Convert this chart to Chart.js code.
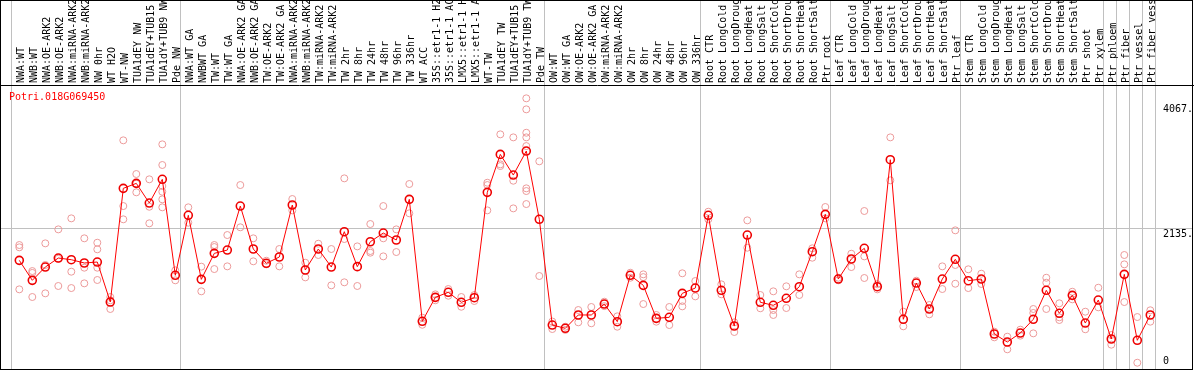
<!DOCTYPE html>
<html>
<head>
<meta charset="utf-8">
<script src="https://cdn.jsdelivr.net/npm/chart.js@4/dist/chart.umd.min.js"></script>
<style>
  html, body { margin: 0; padding: 0; background: #fff; }
  canvas { display: block; }
</style>
</head>
<body>
<canvas id="exprChart" width="1194" height="370"></canvas>
<script>
const geneName = "Potri.018G069450";

const categories = [
  "NWA:WT", "NWB:WT", "NWA:OE-ARK2", "NWB:OE-ARK2", "NWA:miRNA-ARK2", "NWB:miRNA-ARK2",
  "NW 0hr", "WT H2O", "WT-NW", "TUA1dEY NW", "TUA1dEY+TUB15", "TUA1dY+TUB9 NW", "Pde NW",
  "NWA:WT GA", "NWBWT GA", "TW:WT", "TW:WT GA", "NWA:OE-ARK2 GA", "NWB:OE-ARK2 GA",
  "TW:OE-ARK2", "TW:OE-ARK2 GA", "NWA:miRNA-ARK2", "NWB:miRNA-ARK2", "TW:miRNA-ARK2",
  "TW:miRNA-ARK2", "TW 2hr", "TW 8hr", "TW 24hr", "TW 48hr", "TW 96hr", "TW 336hr",
  "WT ACC", "35S::etr1-1 H2", "35S::etr1-1 AC", "LMX5::etr1-1 H", "LMX5::etr1-1 A",
  "WT-TW", "TUA1dEY TW", "TUA1dEY+TUB15", "TUA1dY+TUB9 TW", "Pde TW",
  "OW:WT", "OW:WT GA", "OW:OE-ARK2", "OW:OE-ARK2 GA", "OW:miRNA-ARK2", "OW:miRNA-ARK2",
  "OW 2hr", "OW 8hr", "OW 24hr", "OW 48hr", "OW 96hr", "OW 336hr",
  "Root CTR", "Root LongCold", "Root LongDroug", "Root LongHeat", "Root LongSalt",
  "Root ShortCold", "Root ShortDrou", "Root ShortHeat", "Root ShortSalt", "Ptr root",
  "Leaf CTR", "Leaf LongCold", "Leaf LongDroug", "Leaf LongHeat", "Leaf LongSalt",
  "Leaf ShortCold", "Leaf ShortDrou", "Leaf ShortHeat", "Leaf ShortSalt", "Ptr leaf",
  "Stem CTR", "Stem LongCold", "Stem LongDroug", "Stem LongHeat", "Stem LongSalt",
  "Stem ShortCold", "Stem ShortDrou", "Stem ShortHeat", "Stem ShortSalt", "Ptr shoot",
  "Ptr xylem", "Ptr phloem", "Ptr fiber", "Ptr vessel", "Ptr fiber vess"
];

// number of categories in each block between the grey separators
const groupSizes = [13, 28, 12, 10, 10, 11, 1, 1, 1, 1];

const means = [
  1640, 1330, 1536, 1676, 1650, 1599, 1614, 993, 2758, 2835, 2530, 2898, 1408,
  2339, 1345, 1749, 1800, 2483, 1816, 1594, 1692, 2499, 1490, 1816, 1536, 2085, 1542,
  1929, 2064, 1956, 2587, 694, 1066, 1144, 989, 1060, 2696, 3285, 2964, 3337, 2277,
  636, 585, 792, 792, 962, 688, 1408, 1252, 740, 756, 1128, 1210,
  2339, 1175, 621, 2033, 989, 942, 1051, 1231, 1774, 2354,
  1350, 1661, 1827, 1231, 3202, 725, 1288, 885, 1350, 1656,
  1324, 1350, 497, 372, 512, 725, 1175, 818, 1097, 667, 1024,
  419, 1423, 399, 792
];

const replicates = [
  [1878, 1842, 1190], [1474, 1071, 1445], [1904, 1568, 1128], [2121, 1242, 1665],
  [2292, 1464, 1210], [1982, 1526, 1283], [1914, 1811, 1526, 1335], [1071, 885, 1020],
  [3503, 2483, 2277], [2980, 2696, 2830], [2898, 2472, 2215],
  [3441, 3120, 2794, 2705, 2587, 2463], [1485, 1330],
  [2463, 2224], [1542, 1159], [1878, 1847, 1505], [2033, 1547], [2809, 2153],
  [1982, 1625], [1634, 1578], [1816, 1547], [2592, 2416], [1603, 1376], [1898, 1723],
  [1816, 1252], [2913, 1971, 1299], [1857, 1242], [2204, 1785, 1759], [2483, 1982, 1702],
  [2121, 1769], [2825, 2370], [750, 640], [1020, 1112], [1195, 1091], [1071, 920],
  [1009, 1101], [2845, 2809, 2416], [3596, 3130, 3104], [3549, 2876, 2447],
  [4155, 3984, 3621, 3549, 3414, 2758, 2716, 2514], [3177, 1397],
  [574, 690], [560, 610], [869, 678], [916, 663], [998, 930], [771, 610],
  [1448, 1370], [1423, 1380, 962], [792, 688], [916, 636], [1439, 1009, 926], [1319, 1081],
  [2395, 2277], [1268, 1113], [678, 528], [2261, 1836], [1102, 896], [1159, 869, 792],
  [1237, 900], [1423, 1102], [1827, 1681], [2468, 2292],
  [1330, 1370], [1743, 1536], [2406, 1702, 1366], [1190, 1270], [3549, 2882],
  [843, 616], [1324, 1226], [947, 802], [1547, 1195], [2106, 1568, 1277],
  [1501, 1210], [1433, 1273], [532, 445], [455, 259], [564, 471], [885, 823, 507],
  [1370, 1293, 885], [973, 756, 714], [1153, 1035], [843, 570], [1215, 911],
  [481, 331], [1723, 1578, 993], [760, 51], [865, 688]
];

const yTicks = [0, 2135, 4067];
const yGridValue = 2135;

const FONT = "DejaVu Sans Mono";

// separators sit a bit left of the midpoint between two columns, like the original
const separators = [];
let start = 0;
separators.push(start - 0.615);
groupSizes.forEach((size) => {
  start += size;
  separators.push(start - 0.615);
});

const meanPoints = means.map((v, i) => ({ x: i, y: v }));
const repPoints = [];
replicates.forEach((reps, i) => {
  reps.forEach((v) => repPoints.push({ x: i, y: v }));
});

// chart.js reserves room for rotated edge labels; the original plot runs to the frame
const noPadding = (scale) => {
  scale.paddingLeft = 0;
  scale.paddingRight = 0;
  scale.paddingTop = 0;
  scale.paddingBottom = 0;
};

const decorations = {
  id: "decorations",
  afterDraw(chart) {
    const { ctx, chartArea: area, scales } = chart;
    ctx.save();
    // outer border round labels and plot
    ctx.strokeStyle = "#000";
    ctx.lineWidth = 1;
    ctx.strokeRect(area.left - 0.5, 0.5, area.right - area.left, area.bottom - 1);

    ctx.font = `10px "${FONT}"`;
    ctx.textAlign = "left";
    ctx.fillStyle = "#ff0000";
    ctx.textBaseline = "middle";
    ctx.fillText(geneName, 9, area.top + 12);

    ctx.fillStyle = "#000";
    yTicks.forEach((v) => {
      const py = scales.y.getPixelForValue(v);
      ctx.textBaseline = v === 0 ? "bottom" : "top";
      ctx.fillText(v === 0 ? "0" : v + ".", 1163, py + (v === 0 ? 0 : 0.5));
    });
    ctx.restore();
  }
};

const ctx = document.getElementById("exprChart").getContext("2d");
new Chart(ctx, {
  type: "line",
  data: {
    datasets: [
      {
        label: "mean",
        data: meanPoints,
        borderColor: "#ff0000",
        borderWidth: 1,
        pointRadius: 4,
        pointBorderWidth: 1.6,
        pointBorderColor: "#ee0000",
        pointBackgroundColor: "rgba(0,0,0,0)",
        tension: 0,
        fill: false
      },
      {
        label: "replicates",
        data: repPoints,
        showLine: false,
        pointRadius: 3.5,
        pointBorderWidth: 1,
        pointBorderColor: "#ec9a9a",
        pointBackgroundColor: "rgba(0,0,0,0)"
      }
    ]
  },
  options: {
    responsive: false,
    animation: false,
    devicePixelRatio: 1,
    layout: { autoPadding: false, padding: { left: 1, right: 1, top: 0, bottom: 0 } },
    plugins: {
      legend: { display: false },
      tooltip: { enabled: false },
      title: { display: false }
    },
    scales: {
      x: {
        type: "linear",
        position: "top",
        weight: 2,
        min: (1 - 19.3) / 13,
        max: (1193 - 19.3) / 13,
        afterBuildTicks: (scale) => {
          scale.ticks = categories.map((_, i) => ({ value: i }));
        },
        afterFit: (scale) => {
          scale.height = 85;
          noPadding(scale);
        },
        grid: { display: false, drawTicks: false },
        border: { display: true, color: "#000", width: 1 },
        ticks: {
          autoSkip: false,
          minRotation: 90,
          maxRotation: 90,
          padding: 2,
          labelOffset: 14,
          color: "#000",
          font: { family: FONT, size: 10 },
          callback: (value) => categories[value] ?? ""
        }
      },
      x2: {
        type: "linear",
        position: "top",
        weight: 1,
        min: (1 - 19.3) / 13,
        max: (1193 - 19.3) / 13,
        afterBuildTicks: (scale) => {
          scale.ticks = separators.map((v) => ({ value: v }));
        },
        afterFit: (scale) => {
          scale.height = 0;
          noPadding(scale);
        },
        grid: { color: "#c0c0c0", lineWidth: 1, drawTicks: true, tickLength: 85, drawOnChartArea: true },
        border: { display: false },
        ticks: { display: false }
      },
      y: {
        type: "linear",
        position: "right",
        min: -62,
        max: 4362,
        afterBuildTicks: (scale) => {
          scale.ticks = yTicks.map((v) => ({ value: v }));
        },
        afterFit: (scale) => {
          scale.width = 0;
          noPadding(scale);
        },
        grid: {
          drawTicks: false,
          color: (c) => (c.tick && c.tick.value === yGridValue ? "#c0c0c0" : "rgba(0,0,0,0)")
        },
        border: { display: false },
        ticks: { display: false }
      }
    }
  },
  plugins: [decorations]
});
</script>
</body>
</html>
